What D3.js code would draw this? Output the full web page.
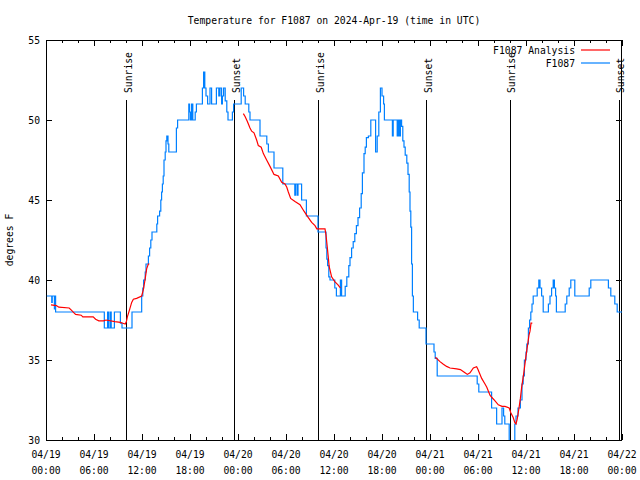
<!DOCTYPE html>
<html><head><meta charset="utf-8">
<script src="https://cdn.jsdelivr.net/npm/d3@7"></script>
<style>body{margin:0;background:#fff}svg{display:block}</style>
</head><body><svg id="c" width="640" height="480"></svg>
<script>
const chartTitle = "Temperature for F1087 on 2024-Apr-19 (time in UTC)";
const yLabel = "degrees F";
const startTime = Date.UTC(2024, 3, 19, 0, 0);
const spanHours = 72;
const yDomain = [30, 55];
const yTicks = [30, 35, 40, 45, 50, 55];
const legendNames = ["F1087 Analysis", "F1087"];
const seriesColors = ["#ff0000", "#0080ff"];
const sunEvents = [["Sunrise", 10.03], ["Sunset", 23.55], ["Sunrise", 34.03], ["Sunset", 47.55], ["Sunrise", 57.95], ["Sunset", 71.6]];
const sunLineTop = 51.25;

// observed sensor temperatures [hours since 04/19 00:00 UTC, degF]
const sensor = [[0.1,39],[0.72,38.6],[0.78,39],[1.05,38.2],[1.1,39],[1.2,38],
[7.29,37],[7.7,38],[7.85,37],[8.05,38],[8.15,37],[8.55,38],[9.3,37.3],[9.5,37],[10.75,38],[11.96,39],
[12.1,39.5],[12.2,40],[12.4,40.5],[12.5,41],[12.8,41.5],[12.95,42],[13.1,42.5],[13.25,43],[13.85,43.5],[13.95,44],
[14.2,44.3],[14.35,45],[14.45,45.5],[14.55,46],[14.65,46.5],[14.75,47.5],[14.9,48],[15.0,48.7],[15.1,49],[15.25,48.5],
[15.35,48],[16.3,49.5],[16.45,50],[17.85,51],[17.95,50.5],[18.05,50],[18.2,51],[18.35,50],[18.65,50.5],[18.8,51],
[19.55,52],[19.7,53],[19.85,52],[20.0,51.5],[20.2,51],[20.5,52],[20.7,51],[21.3,52],[21.6,51.5],[21.75,52],[21.95,51],
[22.05,51.5],[22.2,52],[22.4,51.2],[22.6,50.5],[22.75,50],[23.2,50],[23.3,50.5],[23.45,51],[24.4,52],[24.7,51.5],
[24.9,51],[25.35,50.5],[25.5,50],[26.75,49],[27.6,48.5],[27.8,48],[28.5,47],[29.6,46],[31.1,45.3],[31.2,46],[31.4,45.3],
[31.5,46],[31.95,45],[32.55,44],[34.0,43],[35.0,42],[35.1,41.3],[35.2,40.9],[35.35,40.2],[35.5,40],[36.1,39.5],[36.3,39],
[36.8,40],[36.95,39],[37.4,39.6],[37.6,40.2],[37.85,40.9],[38.0,41.4],[38.2,42],[38.4,42.4],[38.6,42.9],[38.8,43.4],
[39.0,43.9],[39.2,44.5],[39.4,45.4],[39.55,46.7],[39.75,47.9],[39.9,48.3],[40.05,48.9],[40.3,49],[40.6,50],[41.2,48],
[41.4,49],[41.6,50.5],[41.8,52],[42.0,51.5],[42.2,51],[42.3,50],[43.3,49],[43.4,50],[43.9,49],[44.05,50],[44.2,49],
[44.3,50],[44.45,49.6],[44.6,48.7],[44.75,48.3],[44.9,47.8],[45.1,47.3],[45.25,46.6],[45.4,45.5],[45.5,44.3],[45.6,43.3],
[45.7,41],[45.8,39],[45.92,38],[46.45,37.5],[46.65,37],[47.5,36],[48.5,35.5],[48.65,35.1],[48.9,34],[53.9,33.5],[54.1,33],
[55.7,32],[56.33,31],[57.0,32],[57.2,31.5],[57.35,31],[57.9,29],[58.6,31],[58.75,31.5],[59.0,32],[59.3,32.5],[59.5,33.5],
[59.65,34],[59.8,35],[60.0,35.5],[60.1,36],[60.3,37],[60.45,37.5],[60.6,38],[60.75,38.5],[60.9,39],[61.4,39.5],[61.6,40],
[61.75,39.5],[61.95,39],[62.15,38],[62.8,38.5],[63.0,39],[63.2,39.5],[63.4,40],[63.55,39.5],[63.7,39],[63.8,38],[64.9,38.5],
[65.1,39],[65.4,39.5],[65.6,40],[65.85,40],[66.1,39],[67.9,39.5],[68.1,40],[70.3,39.5],[70.6,39],[71.1,38.5],[71.4,38],[72,38]];

// analysis segments [hours, degF]
const analysisA = [[0.625,38.45],[1.3,38.4],[1.6,38.3],[2.9,38.25],[3.2,38.1],[3.5,37.95],[3.7,37.85],[4.4,37.8],[4.6,37.7],
[5.9,37.7],[6.2,37.55],[6.6,37.45],[7.2,37.45],[7.5,37.5],[8.6,37.4],[9.3,37.35],[9.6,37.3],[9.9,37.25],[10.05,37.4],
[10.17,37.7],[10.42,38.1],[10.71,38.6],[10.92,38.8],[11.33,38.85],[11.96,39.0],[12.17,39.4],[12.375,40.0],[12.58,40.7],
[12.79,41.0],[12.92,41.0]];
const analysisB = [[24.67,50.4],[24.9,50.2],[25.17,49.9],[25.5,49.5],[25.71,49.3],[26.0,49.2],[26.33,48.75],[26.54,48.4],
[26.9,48.3],[27.17,47.9],[27.58,47.5],[28.0,47.1],[28.5,46.6],[29.04,46.5],[29.46,46.1],[29.875,46.0],[30.1,45.8],
[30.29,45.5],[30.58,45.1],[31.125,44.9],[31.75,44.7],[32.25,44.3],[32.79,43.9],[33.21,43.6],[33.625,43.4],[33.85,43.2],
[34.875,43.2],[35.0,42.8],[35.17,42.0],[35.3,41.35],[35.4,40.83],[35.6,40.42],[35.7,40.2],[36.1,39.9],[36.5,39.7],[36.8,39.5]];
const analysisC = [[48.67,35.17],[49.25,34.9],[49.67,34.73],[50.08,34.6],[50.5,34.5],[51.33,34.44],[51.8,34.4],[52.375,34.2],
[52.67,34.1],[53.0,34.2],[53.42,34.5],[53.83,34.58],[54.0,34.4],[54.46,33.85],[54.875,33.5],[55.1,33.3],[55.5,32.8],
[55.71,32.67],[56.1,32.46],[56.54,32.2],[57.0,32.1],[57.375,32.1],[57.9,32.0],[58.1,31.7],[58.4,31.4],[58.6,31.1],
[58.75,31.0],[58.9,31.3],[59.125,32.0],[59.3,32.6],[59.46,33.3],[59.7,34.1],[59.96,35.1],[60.1,35.6],[60.375,36.56],
[60.5,36.8],[60.63,37.3],[60.79,37.3]];
const analysisSegments = [analysisA, analysisB, analysisC];

const FONT = "'DejaVu Sans Mono', monospace";
const FS = 11, CW = 5.85;
const svg = d3.select("#c");
const L = 46, R = 622, T = 40, B = 440;
const toDate = h => new Date(startTime + h * 3600e3);
const x = d3.scaleUtc().domain([toDate(0), toDate(spanHours)]).range([L, R]);
const y = d3.scaleLinear().domain(yDomain).range([B, T]);

function fit(sel) {
  sel.attr("font-family", FONT).attr("font-size", FS).attr("fill", "#000")
    .each(function () { const n = this.textContent.length; d3.select(this).attr("textLength", n * CW).attr("lengthAdjust", "spacingAndGlyphs"); });
  return sel;
}

svg.append("defs").append("clipPath").attr("id", "clip").append("rect")
  .attr("x", L).attr("y", T).attr("width", R - L).attr("height", B - T);

// title
fit(svg.append("text").attr("x", (L + R) / 2).attr("y", 24).attr("text-anchor", "middle").text(chartTitle));

// axes ticks
const major = d3.utcHour.every(6).range(toDate(0), toDate(spanHours + 0.01));
const minor = d3.utcHour.every(2).range(toDate(0), toDate(spanHours + 0.01));
function tickAxis(axis, tv, size, ty) {
  const g = svg.append("g").attr("transform", ty)
    .call(axis.tickValues(tv).tickSize(size).tickFormat(""));
  g.select(".domain").remove();
  g.selectAll("line").attr("stroke", "#000").attr("shape-rendering", "crispEdges");
}
tickAxis(d3.axisBottom(x), minor, -3, `translate(0,${B})`);
tickAxis(d3.axisBottom(x), major, -6, `translate(0,${B})`);
tickAxis(d3.axisTop(x), minor, -3, `translate(0,${T})`);
tickAxis(d3.axisTop(x), major, -6, `translate(0,${T})`);

const yg = svg.append("g").attr("transform", `translate(${L},0)`)
  .call(d3.axisLeft(y).tickValues(yTicks).tickSize(-6).tickPadding(6));
yg.select(".domain").remove();
yg.selectAll("line").attr("stroke", "#000").attr("shape-rendering", "crispEdges");
yg.selectAll("text").call(fit);
const yg2 = svg.append("g").attr("transform", `translate(${R},0)`)
  .call(d3.axisRight(y).tickValues(yTicks).tickSize(-6).tickFormat(""));
yg2.select(".domain").remove();
yg2.selectAll("line").attr("stroke", "#000").attr("shape-rendering", "crispEdges");

// x labels (two lines)
const fmtDate = d3.utcFormat("%m/%d"), fmtTime = d3.utcFormat("%H:%M");
const xl = svg.append("g");
fit(xl.selectAll("text.d").data(major).join("text").attr("class", "d")
  .attr("x", d => x(d)).attr("y", 458).attr("text-anchor", "middle").text(d => fmtDate(d)));
fit(xl.selectAll("text.t").data(major).join("text").attr("class", "t")
  .attr("x", d => x(d)).attr("y", 474).attr("text-anchor", "middle").text(d => fmtTime(d)));

// y label
fit(svg.append("text").attr("transform", `translate(13,${(T + B) / 2}) rotate(-90)`)
  .attr("text-anchor", "middle").text(yLabel));

// border
svg.append("rect").attr("x", L + 0.5).attr("y", T + 0.5).attr("width", R - L - 1).attr("height", B - T)
  .attr("fill", "none").attr("stroke", "#000").attr("shape-rendering", "crispEdges");

// sunrise / sunset markers
const sg = svg.append("g");
sg.selectAll("line").data(sunEvents).join("line")
  .attr("x1", d => Math.round(x(toDate(d[1]))) + 0.5).attr("x2", d => Math.round(x(toDate(d[1]))) + 0.5)
  .attr("y1", y(sunLineTop)).attr("y2", B)
  .attr("stroke", "#000").attr("stroke-width", 1).attr("shape-rendering", "crispEdges");
fit(sg.selectAll("text").data(sunEvents).join("text")
  .attr("transform", d => `translate(${x(toDate(d[1])) + 5.5},${y(sunLineTop) - 7}) rotate(-90)`)
  .attr("text-anchor", "start").text(d => d[0]));

// data lines
const plot = svg.append("g").attr("clip-path", "url(#clip)");
const lineStep = d3.line().x(d => x(toDate(d[0]))).y(d => y(d[1])).curve(d3.curveStepAfter);
const lineLin = d3.line().x(d => x(toDate(d[0]))).y(d => y(d[1]));
plot.append("path").datum(sensor).attr("d", lineStep)
  .attr("fill", "none").attr("stroke", seriesColors[1]).attr("stroke-width", 1.2);
plot.selectAll("path.an").data(analysisSegments).join("path").attr("class", "an")
  .attr("d", lineLin).attr("fill", "none").attr("stroke", seriesColors[0]).attr("stroke-width", 1.2);

// legend
const lg = svg.append("g");
const legY = [50, 63];
legendNames.forEach((name, i) => {
  fit(lg.append("text").attr("x", 575).attr("y", legY[i] + 4).attr("text-anchor", "end").text(name));
  lg.append("line").attr("x1", 581).attr("x2", 610).attr("y1", legY[i]).attr("y2", legY[i])
    .attr("stroke", seriesColors[i === 0 ? 0 : 1]).attr("stroke-width", 1.2);
});
</script></body></html>
